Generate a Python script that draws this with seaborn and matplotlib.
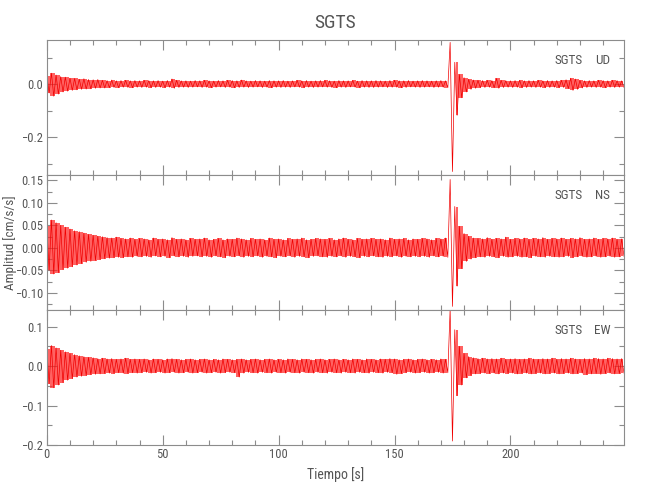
"""
Sismograma SGTS: tres componentes (UD, NS, EW) de aceleración.
"""

import matplotlib
matplotlib.use('Agg')
import matplotlib.pyplot as plt
from matplotlib import font_manager as fm
from matplotlib.ticker import MultipleLocator, FuncFormatter
import seaborn as sns
import numpy as np
import pandas as pd

# Envolventes (máximo / mínimo) por ventana de 2 s
t_bins = np.arange(0, 250, 2)

ud_up = [0.032, 0.041, 0.034, 0.028, 0.026, 0.022, 0.021, 0.018, 0.020, 0.017,
         0.016, 0.017, 0.014, 0.013, 0.015, 0.012, 0.013, 0.014, 0.012, 0.013,
         0.012, 0.014, 0.013, 0.012, 0.013, 0.011, 0.013, 0.019, 0.014, 0.012,
         0.012, 0.011, 0.013, 0.012, 0.014, 0.012, 0.011, 0.013, 0.012, 0.014,
         0.013, 0.012, 0.015, 0.012, 0.011, 0.013, 0.012, 0.011, 0.013, 0.012,
         0.012, 0.013, 0.011, 0.012, 0.014, 0.012, 0.013, 0.011, 0.012, 0.013,
         0.014, 0.012, 0.011, 0.013, 0.012, 0.012, 0.014, 0.011, 0.013, 0.012,
         0.012, 0.013, 0.012, 0.011, 0.013, 0.014, 0.012, 0.012, 0.013, 0.011,
         0.012, 0.013, 0.012, 0.011, 0.012, 0.013, 0.012, 0.157, 0.082, 0.036,
         0.024, 0.018, 0.015, 0.014, 0.013, 0.014, 0.013, 0.021, 0.014, 0.013,
         0.012, 0.013, 0.014, 0.012, 0.013, 0.012, 0.014, 0.012, 0.013, 0.012,
         0.013, 0.014, 0.016, 0.022, 0.019, 0.014, 0.012, 0.013, 0.012, 0.014,
         0.013, 0.012, 0.014, 0.013, 0.012]
ud_lo = [-0.034, -0.046, -0.038, -0.030, -0.027, -0.024, -0.022, -0.020, -0.019, -0.018,
         -0.016, -0.015, -0.015, -0.014, -0.013, -0.014, -0.012, -0.013, -0.014, -0.012,
         -0.013, -0.012, -0.014, -0.013, -0.012, -0.014, -0.012, -0.016, -0.013, -0.012,
         -0.013, -0.012, -0.011, -0.013, -0.012, -0.014, -0.012, -0.011, -0.013, -0.012,
         -0.014, -0.013, -0.012, -0.013, -0.012, -0.011, -0.013, -0.012, -0.014, -0.012,
         -0.013, -0.012, -0.013, -0.011, -0.012, -0.014, -0.012, -0.013, -0.012, -0.011,
         -0.012, -0.013, -0.014, -0.012, -0.013, -0.011, -0.012, -0.014, -0.012, -0.013,
         -0.013, -0.012, -0.011, -0.013, -0.012, -0.012, -0.014, -0.013, -0.011, -0.012,
         -0.013, -0.012, -0.011, -0.013, -0.012, -0.012, -0.014, -0.330, -0.118, -0.052,
         -0.030, -0.020, -0.016, -0.014, -0.013, -0.012, -0.014, -0.016, -0.013, -0.012,
         -0.013, -0.012, -0.014, -0.013, -0.012, -0.013, -0.012, -0.014, -0.013, -0.012,
         -0.014, -0.013, -0.017, -0.024, -0.020, -0.015, -0.013, -0.012, -0.013, -0.012,
         -0.014, -0.012, -0.013, -0.012, -0.013]

ns_up = [0.048, 0.062, 0.056, 0.050, 0.046, 0.042, 0.038, 0.036, 0.033, 0.030,
         0.028, 0.026, 0.025, 0.023, 0.022, 0.024, 0.021, 0.020, 0.022, 0.019,
         0.021, 0.020, 0.018, 0.022, 0.019, 0.020, 0.018, 0.023, 0.019, 0.020,
         0.018, 0.021, 0.019, 0.020, 0.022, 0.018, 0.019, 0.021, 0.018, 0.020,
         0.019, 0.022, 0.020, 0.018, 0.021, 0.019, 0.020, 0.018, 0.022, 0.019,
         0.020, 0.018, 0.021, 0.019, 0.020, 0.022, 0.018, 0.019, 0.021, 0.020,
         0.019, 0.021, 0.018, 0.020, 0.022, 0.019, 0.018, 0.021, 0.019, 0.020,
         0.021, 0.019, 0.020, 0.018, 0.022, 0.019, 0.020, 0.021, 0.018, 0.020,
         0.019, 0.021, 0.020, 0.018, 0.021, 0.020, 0.022, 0.152, 0.092, 0.048,
         0.032, 0.026, 0.022, 0.021, 0.020, 0.023, 0.019, 0.021, 0.020, 0.024,
         0.019, 0.021, 0.020, 0.022, 0.019, 0.021, 0.020, 0.023, 0.019, 0.021,
         0.020, 0.022, 0.019, 0.021, 0.020, 0.023, 0.019, 0.020, 0.022, 0.019,
         0.021, 0.020, 0.022, 0.019, 0.020]
ns_lo = [-0.050, -0.058, -0.055, -0.048, -0.045, -0.042, -0.038, -0.035, -0.032, -0.030,
         -0.028, -0.026, -0.024, -0.023, -0.022, -0.021, -0.022, -0.020, -0.021, -0.019,
         -0.020, -0.019, -0.021, -0.018, -0.020, -0.019, -0.022, -0.018, -0.020, -0.019,
         -0.021, -0.019, -0.018, -0.020, -0.019, -0.021, -0.018, -0.020, -0.022, -0.019,
         -0.020, -0.018, -0.021, -0.019, -0.020, -0.018, -0.021, -0.019, -0.020, -0.022,
         -0.019, -0.020, -0.018, -0.021, -0.019, -0.020, -0.022, -0.019, -0.018, -0.020,
         -0.021, -0.019, -0.020, -0.018, -0.021, -0.019, -0.020, -0.022, -0.019, -0.020,
         -0.018, -0.020, -0.021, -0.019, -0.020, -0.018, -0.021, -0.019, -0.020, -0.019,
         -0.020, -0.019, -0.021, -0.018, -0.020, -0.019, -0.021, -0.130, -0.085, -0.046,
         -0.030, -0.025, -0.022, -0.020, -0.021, -0.019, -0.020, -0.022, -0.019, -0.021,
         -0.020, -0.019, -0.021, -0.020, -0.022, -0.019, -0.020, -0.021, -0.019, -0.020,
         -0.021, -0.020, -0.019, -0.022, -0.020, -0.019, -0.021, -0.020, -0.019, -0.021,
         -0.020, -0.019, -0.021, -0.020, -0.019]

ew_up = [0.042, 0.052, 0.046, 0.040, 0.036, 0.032, 0.029, 0.026, 0.024, 0.022,
         0.021, 0.019, 0.020, 0.018, 0.019, 0.017, 0.018, 0.020, 0.017, 0.018,
         0.017, 0.018, 0.016, 0.018, 0.017, 0.016, 0.018, 0.019, 0.017, 0.016,
         0.017, 0.018, 0.016, 0.017, 0.018, 0.016, 0.017, 0.016, 0.018, 0.017,
         0.016, 0.017, 0.018, 0.016, 0.017, 0.018, 0.016, 0.017, 0.018, 0.016,
         0.017, 0.016, 0.018, 0.017, 0.016, 0.018, 0.017, 0.016, 0.017, 0.018,
         0.016, 0.017, 0.018, 0.016, 0.017, 0.016, 0.018, 0.017, 0.016, 0.018,
         0.017, 0.016, 0.018, 0.017, 0.019, 0.018, 0.016, 0.017, 0.018, 0.016,
         0.017, 0.018, 0.016, 0.017, 0.016, 0.018, 0.017, 0.145, 0.092, 0.050,
         0.032, 0.024, 0.021, 0.019, 0.020, 0.018, 0.019, 0.018, 0.020, 0.017,
         0.018, 0.019, 0.017, 0.018, 0.020, 0.018, 0.017, 0.019, 0.018, 0.020,
         0.017, 0.019, 0.018, 0.020, 0.018, 0.017, 0.019, 0.018, 0.020, 0.019,
         0.018, 0.020, 0.019, 0.018, 0.019]
ew_lo = [-0.045, -0.055, -0.048, -0.042, -0.036, -0.032, -0.028, -0.026, -0.024, -0.022,
         -0.021, -0.020, -0.019, -0.018, -0.019, -0.017, -0.018, -0.019, -0.017, -0.018,
         -0.017, -0.016, -0.018, -0.017, -0.016, -0.018, -0.017, -0.016, -0.018, -0.017,
         -0.016, -0.018, -0.017, -0.016, -0.018, -0.017, -0.016, -0.018, -0.017, -0.016,
         -0.017, -0.028, -0.018, -0.016, -0.017, -0.018, -0.016, -0.017, -0.018, -0.016,
         -0.017, -0.018, -0.016, -0.017, -0.018, -0.016, -0.017, -0.018, -0.016, -0.017,
         -0.018, -0.016, -0.017, -0.018, -0.016, -0.017, -0.018, -0.016, -0.017, -0.018,
         -0.016, -0.017, -0.018, -0.016, -0.017, -0.021, -0.019, -0.017, -0.016, -0.018,
         -0.017, -0.016, -0.018, -0.017, -0.016, -0.018, -0.017, -0.190, -0.075, -0.048,
         -0.030, -0.024, -0.020, -0.019, -0.018, -0.019, -0.018, -0.020, -0.018, -0.019,
         -0.018, -0.020, -0.019, -0.018, -0.020, -0.019, -0.018, -0.020, -0.019, -0.018,
         -0.020, -0.019, -0.018, -0.020, -0.019, -0.018, -0.022, -0.020, -0.019, -0.021,
         -0.019, -0.018, -0.020, -0.019, -0.018]

components = ['UD', 'NS', 'EW']
station = 'SGTS'
ylims = [(-0.343, 0.166), (-0.138, 0.162), (-0.200, 0.142)]
ysteps = [(0.2, 0.1, 1), (0.05, 0.025, 2), (0.1, 0.05, 1)]


def pick_font(candidates):
    for name in candidates:
        try:
            fm.findfont(fm.FontProperties(family=name), fallback_to_default=False)
            return name
        except ValueError:
            continue
    return 'DejaVu Sans'


sns.set_theme(style='ticks')
font = pick_font(['Liberation Sans Narrow', 'DejaVu Sans Condensed',
                  'Roboto Condensed', 'Open Sans Condensed', 'Liberation Sans'])
plt.rcParams['font.family'] = [font, 'DejaVu Sans']

txt = '#555555'
frame = '#8c8c8c'

fig, axes = plt.subplots(3, 1, sharex=True, figsize=(6.5, 5), dpi=100)
fig.subplots_adjust(left=0.072, right=0.96, top=0.92, bottom=0.11, hspace=0)

for ax, comp, up, lo, yl, (maj, mnr, dec) in zip(
        axes, components, [ud_up, ns_up, ew_up], [ud_lo, ns_lo, ew_lo], ylims, ysteps):
    up = np.array(up)
    lo = np.array(lo)
    # Traza en zigzag: máximo al inicio de la ventana, mínimo a la mitad
    x = np.column_stack([t_bins, t_bins + 1.0]).ravel()
    y = np.column_stack([up, lo]).ravel()
    df = pd.DataFrame({'t': x, 'a': y})
    # banda rellena; el pico principal queda sólo como traza fina
    band = (up - lo) < 0.25
    ax.fill_between(t_bins + 0.5, lo, up, where=band, step='mid',
                    color='#ff2020', alpha=0.7, lw=0)
    sns.lineplot(data=df, x='t', y='a', ax=ax, sort=False, estimator=None,
                 color='#f00000', lw=0.5)

    ax.set_xlim(0, 249)
    ax.set_ylim(*yl)
    ax.set_xlabel('')
    ax.set_ylabel('')
    ax.yaxis.set_major_locator(MultipleLocator(maj))
    ax.yaxis.set_minor_locator(MultipleLocator(mnr))
    ax.yaxis.set_major_formatter(
        FuncFormatter(lambda v, p, d=dec: f'{v:.{d}f}'.replace('-', '\u2212')))
    ax.xaxis.set_major_locator(MultipleLocator(50))
    ax.xaxis.set_minor_locator(MultipleLocator(10))

    ax.tick_params(which='both', direction='in', top=True, right=True,
                   color=frame, width=0.8, labelcolor=txt, labelsize=9, pad=2.5)
    ax.tick_params(which='major', length=7)
    ax.tick_params(which='minor', length=3.5)
    for s in ax.spines.values():
        s.set_color(frame)
        s.set_linewidth(0.8)

    ax.text(0.929, 0.85, station, transform=ax.transAxes, ha='right', va='center',
            color=txt, fontsize=9.5)
    ax.text(0.976, 0.85, comp, transform=ax.transAxes, ha='right', va='center',
            color=txt, fontsize=9.5)

axes[2].set_xlabel('Tiempo [s]', color=txt, fontsize=10, labelpad=4)
fig.text(0.016, 0.515, 'Amplitud [cm/s/s]', rotation=90, ha='center', va='center',
         color=txt, fontsize=9.5)
fig.text(0.516, 0.955, station, ha='center', va='center', color=txt, fontsize=14)

plt.savefig('out.png', dpi=100)
